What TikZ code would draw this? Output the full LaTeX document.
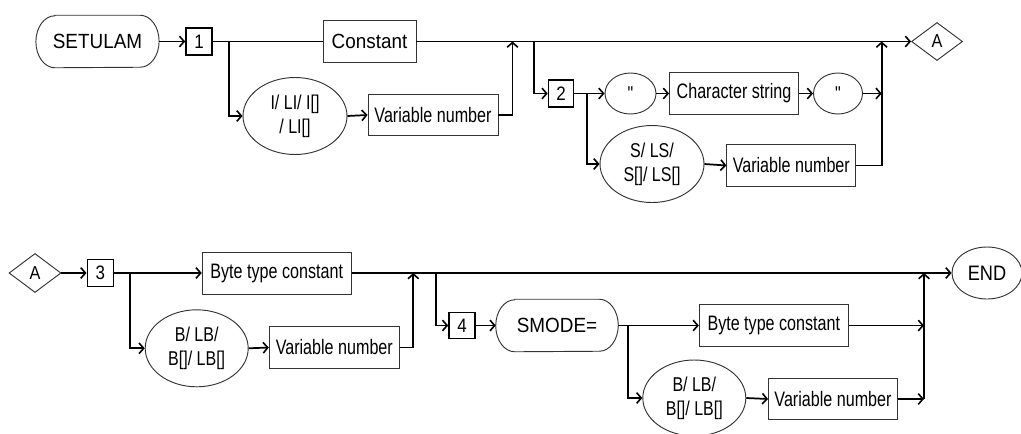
\documentclass[tikz,border=0pt]{standalone}
\usepackage{fontspec}
\setmainfont{Liberation Sans}
\newfontfamily\fa{Liberation Sans}[FakeStretch=0.92]
\newfontfamily\fb{Liberation Sans}[FakeStretch=0.77]
\newfontfamily\fc{Liberation Sans}[FakeStretch=0.8]
\newfontfamily\fd{Liberation Sans}[FakeStretch=0.87]
\usetikzlibrary{arrows.meta,shapes.geometric}
\begin{document}
\begin{tikzpicture}[x=0.75pt,y=-0.75pt,
  conn/.style={line width=1.3pt,black},
  arr/.style={conn,-{Straight Barb[length=3.5pt,width=8pt,line width=1.2pt]}},
  thinbox/.style={draw=black!80,line width=0.7pt,rectangle,inner sep=0pt,minimum height=31pt,font=\fb\fontsize{15.7}{17}\selectfont},
  numbox/.style={draw=black,line width=1.2pt,rectangle,inner sep=0pt,minimum width=19.5pt,minimum height=20pt,font=\fd\fontsize{14.6}{16}\selectfont},
  oval/.style={draw=black!80,line width=0.7pt,ellipse,inner sep=0pt,align=center,font=\fc\fontsize{15}{18}\selectfont},
  keytxt/.style={inner sep=0pt,minimum width=92pt,minimum height=39pt,font=\fa\fontsize{15.4}{17}\selectfont},
  dia/.style={draw=black!80,line width=0.7pt,diamond,inner sep=0pt,minimum width=38.25pt,minimum height=28.5pt,font=\fd\fontsize{14}{15}\selectfont},
  nodeline/.style={draw=black!80,line width=0.7pt}
]
\useasboundingbox (0,0) rectangle (1021,433);
% ---------- Row 1 ----------
\node[keytxt] (s1) at (97.5,41.5) {SETULAM};
\draw[nodeline] ([xshift=14.25pt]s1.north west) -- ([xshift=-14.25pt]s1.north east)
  arc[start angle=90,end angle=-90,x radius=14.25pt,y radius=19.5pt]
  -- ([xshift=14.25pt]s1.south west)
  arc[start angle=270,end angle=90,x radius=14.25pt,y radius=19.5pt] -- cycle;
\node[numbox] (b1) at (199,41.5) {1};
\node[thinbox,minimum width=69.75pt,font=\fa\fontsize{15.4}{17}\selectfont] (c1) at (369.5,41.5) {Constant};
\node[oval,minimum width=78pt,minimum height=57.75pt] (e1) at (295,116) {I/ LI/ I[]\\/ LI[]};
\node[thinbox,minimum width=97.5pt] (v1) at (433,115) {Variable number};
\node[numbox,minimum width=18.75pt] (b2) at (561,93.5) {2};
\node[oval,minimum width=38.25pt,minimum height=30.75pt] (q1) at (630.5,93.5) {"};
\node[thinbox,minimum width=96.75pt] (cs) at (734,93.5) {Character string};
\node[oval,minimum width=36.75pt,minimum height=30.75pt] (q2) at (838,93.5) {"};
\node[oval,minimum width=78pt,minimum height=57.75pt] (e2) at (652,164) {S/ LS/\\S[]/ LS[]};
\node[thinbox,minimum width=96.75pt] (v2) at (791.3,165.5) {Variable number};
\node[dia] (a1) at (937,41.5) {A};
\coordinate (j1) at (228.7,41.5);
\coordinate (m1) at (512.5,41.5);
\coordinate (j2) at (534,41.5);
\coordinate (j3) at (587,93.5);
\coordinate (m2) at (881.7,41.5);
\draw[arr] (s1.east) -- (b1.west);
\draw[conn] (b1.east) -- (c1.west);
\draw[arr] (c1.east) -- (a1.west);
\draw[arr] (j1) |- (e1.west);
\draw[arr] (e1.east) -- (v1.west);
\draw[arr] (v1.east) -| (m1);
\draw[arr] (j2) |- (b2.west);
\draw[arr] (b2.east) -- (q1.west);
\draw[arr] (q1.east) -- (cs.west);
\draw[arr] (cs.east) -- (q2.west);
\draw[arr] (q2.east) -- (q2.east -| m2);
\draw[arr] (j3) |- (e2.west);
\draw[arr] (e2.east) -- (v2.west);
\draw[arr] (v2.east) -| (m2);
% ---------- Row 2 ----------
\node[dia,minimum width=39pt,minimum height=29.25pt] (a2) at (35,273) {A};
\node[numbox] (b3) at (100.3,273) {3};
\node[thinbox,minimum width=111.75pt,minimum height=31.5pt] (bt1) at (276.7,273) {Byte type constant};
\node[oval,minimum width=77.25pt,minimum height=57.75pt] (e3) at (196.7,348.3) {B/ LB/\\B[]/ LB[]};
\node[thinbox,minimum width=97.5pt] (v3) at (334.3,347.5) {Variable number};
\node[numbox,minimum height=19.5pt] (b4) at (462,325.5) {4};
\node[keytxt,minimum width=91.5pt] (sm) at (557,325.5) {SMODE=};
\draw[nodeline] ([xshift=14.25pt]sm.north west) -- ([xshift=-14.25pt]sm.north east)
  arc[start angle=90,end angle=-90,x radius=14.25pt,y radius=19.5pt]
  -- ([xshift=14.25pt]sm.south west)
  arc[start angle=270,end angle=90,x radius=14.25pt,y radius=19.5pt] -- cycle;
\node[thinbox,minimum width=111.75pt,minimum height=31.5pt] (bt2) at (773.8,325.5) {Byte type constant};
\node[oval,minimum width=77.25pt,minimum height=57pt] (e4) at (694.3,398) {B/ LB/\\B[]/ LB[]};
\node[thinbox,minimum width=96.75pt] (v4) at (833,399) {Variable number};
\node[oval,minimum width=52.5pt,minimum height=39pt,font=\fd\fontsize{15.7}{17}\selectfont] (end) at (987,273) {END};
\coordinate (j4) at (130,273);
\coordinate (m3) at (413.3,273);
\coordinate (j5) at (436,273);
\coordinate (j6) at (628.3,325.5);
\coordinate (m4) at (924,273);
\draw[arr] (a2.east) -- (b3.west);
\draw[arr] (b3.east) -- (bt1.west);
\draw[arr] (j4) |- (e3.west);
\draw[arr] (e3.east) -- (v3.west);
\draw[arr] (v3.east) -| (m3);
\draw[arr] (bt1.east) -- (end.west);
\draw[arr] (j5) |- (b4.west);
\draw[arr] (b4.east) -- (sm.west);
\draw[arr] (sm.east) -- (bt2.west);
\draw[arr] (j6) |- (e4.west);
\draw[arr] (e4.east) -- (v4.west);
\draw[arr] (bt2.east) -- (bt2.east -| m4);
\draw[arr] (v4.east) -- (v4.east -| m4);
\draw[arr] (v4.east -| m4) -- (m4);
\end{tikzpicture}
\end{document}
